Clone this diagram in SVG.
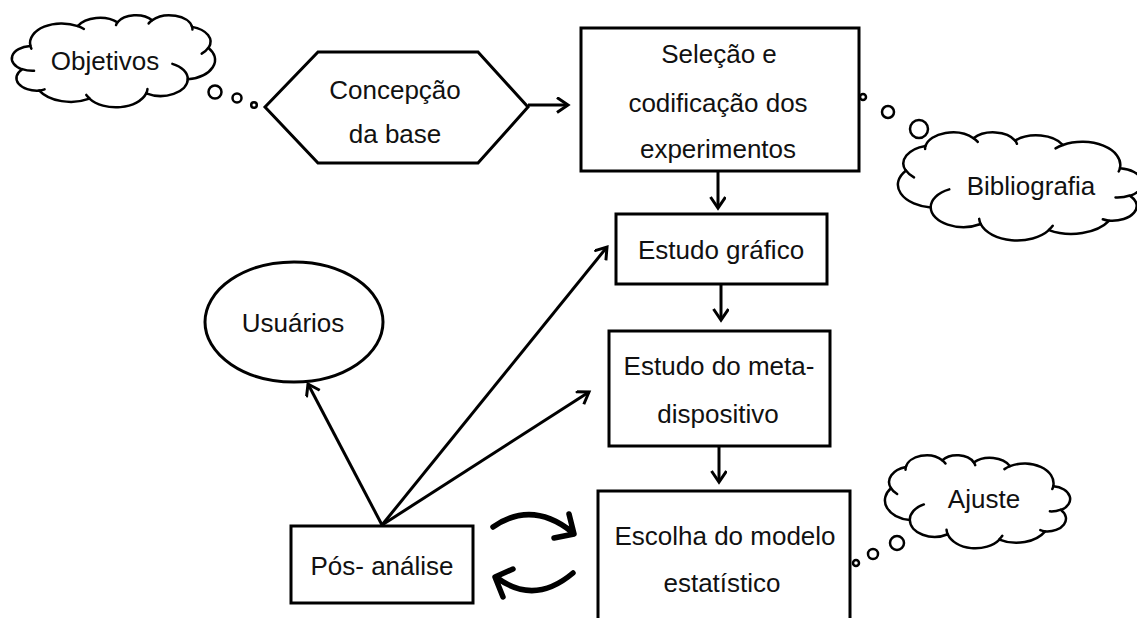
<svg xmlns="http://www.w3.org/2000/svg" width="1137" height="618" viewBox="0 0 1137 618">
<style>
  .t{font-family:"Liberation Sans",Arial,sans-serif;font-size:26px;fill:#111;text-anchor:middle}
  .box{fill:#fff;stroke:#000;stroke-width:3}
  .cl{fill:#fff;stroke:#000;stroke-width:2.5;vector-effect:non-scaling-stroke;stroke-linejoin:round}
  .ci{fill:none;stroke:#000;stroke-width:2.5;vector-effect:non-scaling-stroke;stroke-linecap:round}
  .bub{fill:#fff;stroke:#000;stroke-width:2.5}
  .ln{fill:none;stroke:#000;stroke-width:3}
  .thick{fill:none;stroke:#000;stroke-width:5.5;stroke-linecap:round;stroke-linejoin:round}
</style>
<defs>
  <marker id="ah" markerUnits="userSpaceOnUse" markerWidth="20" markerHeight="20" refX="12" refY="8" orient="auto">
    <path d="M1,0.5 L12,8 L1,15.5" fill="none" stroke="#000" stroke-width="3"/>
  </marker>
  <g id="cloud">
    <path class="cl" d="M9.03,33.26 A15.63,21.27 0 0 1 32.42,12.04 A12.34,16.82 0 0 1 51.98,7.95 A10.10,13.76 0 0 1 69.06,5.74 A11.24,15.27 0 0 1 88.70,12.91 A12.35,16.84 0 0 1 96.80,35.79 A15.68,21.34 0 0 1 86.58,69.92 A13.39,18.21 0 0 1 66.10,85.22 A15.63,21.33 0 0 1 38.15,90.90 A17.87,24.41 0 0 1 13.44,82.12 A10.09,13.70 0 0 1 4.89,59.16 A10.06,13.76 0 0 1 8.94,33.60 Z"/>
    <path class="ci" d="M10.86,60.60 A10.06,13.76 0 0 1 5.00,58.75 M16.04,80.78 A10.09,13.70 0 0 1 13.44,82.12 M38.14,90.49 A15.63,21.33 0 0 1 36.60,86.86 M66.73,80.44 A15.63,21.33 0 0 1 66.10,85.22 M79.00,53.13 A13.39,18.21 0 0 1 86.58,69.92 M96.75,35.54 A12.35,16.84 0 0 1 93.45,41.99 M88.71,12.56 A11.24,15.27 0 0 1 88.88,15.78 M67.31,9.15 A11.24,15.27 0 0 1 69.06,5.74 M51.25,10.93 A10.10,13.76 0 0 1 51.98,7.95 M32.42,12.04 A15.63,21.27 0 0 1 35.43,15.16 M9.55,36.55 A15.63,21.27 0 0 1 9.03,33.26"/>
  </g>
</defs>

<g id="objetivos">
  <use href="#cloud" transform="translate(12,15) scale(2.03,0.92)"/>
  <circle class="bub" cx="215" cy="92" r="6.5"/>
  <circle class="bub" cx="237" cy="98" r="4.5"/>
  <circle class="bub" cx="254" cy="105" r="2.8"/>
  <text class="t" x="105" y="70">Objetivos</text>
</g>

<g id="concepcao">
  <polygon class="box" stroke-width="2.5" points="265,107 318,52 478,52 528,107 478,163 318,163"/>
  <text class="t" x="395" y="99">Concepção</text>
  <text class="t" x="395" y="143">da base</text>
</g>

<g id="selecao">
  <rect class="box" x="581" y="28" width="278" height="143"/>
  <text class="t" x="719" y="63">Seleção e</text>
  <text class="t" x="718" y="112">codificação dos</text>
  <text class="t" x="718" y="158">experimentos</text>
</g>

<g id="bibliografia">
  <circle class="bub" cx="863" cy="97" r="3"/>
  <circle class="bub" cx="888" cy="112" r="6"/>
  <circle class="bub" cx="919" cy="129" r="9"/>
  <use href="#cloud" transform="translate(1142,132) scale(-2.44,1.08)"/>
  <text class="t" x="1031" y="195">Bibliografia</text>
</g>

<g id="estudo-grafico">
  <rect class="box" x="616" y="214" width="211" height="70"/>
  <text class="t" x="721" y="259">Estudo gráfico</text>
</g>

<g id="meta">
  <rect class="box" x="609" y="331" width="221" height="115"/>
  <text class="t" x="719" y="375">Estudo do meta-</text>
  <text class="t" x="718" y="423">dispositivo</text>
</g>

<g id="escolha">
  <rect class="box" x="598" y="491" width="252" height="150"/>
  <text class="t" x="725" y="545">Escolha do modelo</text>
  <text class="t" x="722" y="592">estatístico</text>
</g>

<g id="ajuste">
  <circle class="bub" cx="856" cy="563" r="3"/>
  <circle class="bub" cx="873" cy="554" r="5"/>
  <circle class="bub" cx="897" cy="543" r="7"/>
  <use href="#cloud" transform="translate(1070,455) scale(-1.85,0.93)"/>
  <text class="t" x="984" y="508">Ajuste</text>
</g>

<g id="usuarios">
  <ellipse class="box" stroke-width="2.5" cx="294" cy="322" rx="89" ry="60"/>
  <text class="t" x="293" y="332">Usuários</text>
</g>

<g id="pos-analise">
  <rect class="box" x="291" y="526" width="182" height="77"/>
  <text class="t" x="382" y="575">Pós- análise</text>
</g>

<g id="connectors">
  <line class="ln" x1="528" y1="105" x2="568" y2="105" marker-end="url(#ah)"/>
  <line class="ln" x1="718" y1="171" x2="718" y2="208" marker-end="url(#ah)"/>
  <line class="ln" x1="721" y1="284" x2="721" y2="320" marker-end="url(#ah)"/>
  <line class="ln" x1="719" y1="446" x2="719" y2="482" marker-end="url(#ah)"/>
  <line class="ln" x1="382" y1="525" x2="308" y2="384" marker-end="url(#ah)"/>
  <line class="ln" x1="382" y1="525" x2="607" y2="247" marker-end="url(#ah)"/>
  <line class="ln" x1="382" y1="525" x2="589" y2="392" marker-end="url(#ah)"/>
  <path class="thick" d="M493,527 Q532,500 572,532 M569,514 L574,534 L554,538"/>
  <path class="thick" d="M573,573 Q534,606 496,577 M513,569 L495,577 L503,597"/>
</g>
</svg>
